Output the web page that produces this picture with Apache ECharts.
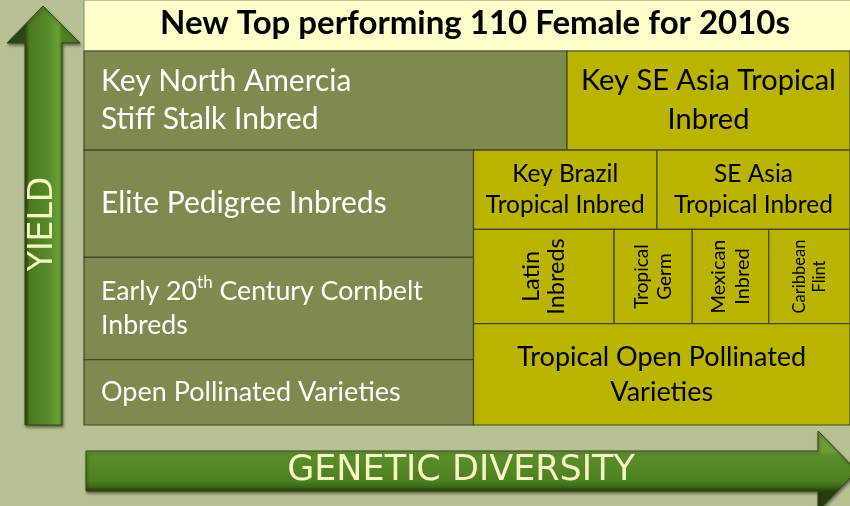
<!DOCTYPE html>
<html>
<head>
<meta charset="utf-8">
<script src="https://cdn.jsdelivr.net/npm/echarts@6/dist/echarts.min.js"></script>
<style>
html,body{margin:0;padding:0;background:#b8c194;}
#chart{width:850px;height:506px;}
</style>
</head>
<body>
<div id="chart"></div>
<script>
// ---- data ----
const titleText = 'New Top performing 110 Female for 2010s';
const yAxisName = 'YIELD';
const xAxisName = 'GENETIC DIVERSITY';

const cellLabels = [
  'Key North Amercia\nStiff Stalk Inbred',
  'Key SE Asia Tropical\nInbred',
  'Elite Pedigree Inbreds',
  'Early 20{sup|th} Century Cornbelt\nInbreds',
  'Open Pollinated Varieties',
  'Key Brazil\nTropical Inbred',
  'SE Asia\nTropical Inbred',
  'Latin\nInbreds',
  'Tropical\nGerm',
  'Mexican\nInbred',
  'Caribbean\nFlint',
  'Tropical Open Pollinated\nVarieties'
];
// cell extents in diagram units (0-100 diversity, 0-100 yield)
const diversityStart = [0,     63.05, 0,     0,     0,     50.85, 74.8,  50.85, 69.2,  79.4,  89.4,  50.85];
const diversityEnd   = [63.05, 100,   50.85, 50.85, 50.85, 74.8,  100,   69.2,  79.4,  89.4,  100,   100];
const yieldStart     = [73.5,  73.5,  44.8,  17.5,  0,     52.3,  52.3,  27.1,  27.1,  27.1,  27.1,  0];
const yieldEnd       = [100,   100,   73.5,  44.8,  17.5,  73.5,  73.5,  52.3,  52.3,  52.3,  52.3,  27.1];
const cellGroup      = ['temperate','tropical','temperate','temperate','temperate','tropical','tropical','tropical','tropical','tropical','tropical','tropical'];

// ---- styles ----
const groupFill = {temperate: '#7f8a4e', tropical: '#bab300'};
const groupText = {temperate: '#ffffff', tropical: '#000000'};
const cellTextStyle = [
  {align:'left', size:30, lh:38},
  {align:'center', size:29, lh:39},
  {align:'left', size:30, lh:36},
  {align:'left', size:26.7, lh:34},
  {align:'left', size:27, lh:32},
  {align:'center', size:24.5, lh:31},
  {align:'center', size:24.5, lh:31},
  {align:'center', size:23.5, lh:25, rotate:true},
  {align:'center', size:19, lh:23, rotate:true},
  {align:'center', size:20, lh:24, rotate:true},
  {align:'center', size:16.5, lh:20, rotate:true},
  {align:'center', size:27, lh:35}
];
const FONT = 'Lato, "Open Sans", sans-serif';

const data = cellLabels.map((l, i) => [diversityStart[i], diversityEnd[i], yieldStart[i], yieldEnd[i]]);

const chart = echarts.init(document.getElementById('chart'), null, {renderer: 'canvas'});

const arrowFillV = {type:'linear', global:true, x:25, y:0, x2:62, y2:0, colorStops:[
  {offset:0, color:'#2e4a14'}, {offset:0.12, color:'#4a7a1d'}, {offset:0.6, color:'#55892a'}, {offset:0.9, color:'#66a033'}, {offset:1, color:'#4f7f22'}]};
const arrowFillH = {type:'linear', global:true, x:0, y:451, x2:0, y2:491, colorStops:[
  {offset:0, color:'#6e9e3a'}, {offset:0.12, color:'#5a8f29'}, {offset:0.75, color:'#4e7f20'}, {offset:0.9, color:'#3c6518'}, {offset:1, color:'#263d10'}]};

const option = {
  backgroundColor: '#b8c194',
  animation: false,
  title: {
    text: titleText,
    left: 470,
    top: 2,
    textAlign: 'center',
    textStyle: {fontFamily: FONT, fontWeight: 'bold', fontSize: 33, color: '#000000'}
  },
  grid: {left: 84, right: 0, top: 51, bottom: 81},
  xAxis: {type: 'value', min: 0, max: 100, show: false},
  yAxis: {type: 'value', min: 0, max: 100, show: false},
  graphic: [
    {type:'rect', z:0, shape:{x:84, y:0, width:770, height:51}, style:{fill:'#ffffcc', stroke:'#8a8a66', lineWidth:1}},
    {type:'polygon', z:1, shape:{points:[[43,6],[80,43],[62,43],[62,425],[25,425],[25,43],[7,43]]},
      style:{fill:arrowFillV, stroke:'#2c4410', lineWidth:1, shadowBlur:3, shadowColor:'rgba(0,0,0,0.45)', shadowOffsetX:1, shadowOffsetY:2}},
    {type:'polygon', z:1, shape:{points:[[86,451],[818,451],[818,431],[857,471],[818,511],[818,491],[86,491]]},
      style:{fill:arrowFillH, stroke:'#2c4410', lineWidth:1, shadowBlur:3, shadowColor:'rgba(0,0,0,0.45)', shadowOffsetX:1, shadowOffsetY:2}},
    {type:'text', z:2, x:43, y:224, rotation:Math.PI/2,
      style:{text:yAxisName, fill:'#f6f4c2', fontFamily:'"DejaVu Sans", sans-serif', fontSize:33, fontWeight:'normal', align:'center', verticalAlign:'middle'}},
    {type:'text', z:2, x:461, y:471,
      style:{text:xAxisName, fill:'#f6f4c2', fontFamily:'"DejaVu Sans", sans-serif', fontSize:35, fontWeight:'normal', align:'center', verticalAlign:'middle'}}
  ],
  series: [{
    type: 'custom',
    coordinateSystem: 'cartesian2d',
    data: data,
    encode: {x: [0, 1], y: [2, 3]},
    renderItem: function (params, api) {
      const i = params.dataIndex;
      const tl = api.coord([api.value(0), api.value(3)]);
      const br = api.coord([api.value(1), api.value(2)]);
      const w = br[0] - tl[0], h = br[1] - tl[1];
      const st = cellTextStyle[i];
      const grp = cellGroup[i];
      const tx = st.align === 'left' ? tl[0] + 17 : tl[0] + w / 2;
      const ty = tl[1] + h / 2;
      return {
        type: 'group',
        children: [
          {type:'rect', shape:{x:tl[0], y:tl[1], width:w, height:h},
            style:{fill:groupFill[grp], stroke:'#45452c', lineWidth:1.2}},
          {type:'text', x:tx, y:ty, rotation: st.rotate ? Math.PI/2 : 0,
            style:{text:cellLabels[i], fill:groupText[grp], fontFamily:FONT, fontSize:st.size,
              lineHeight:st.lh, align:st.align, verticalAlign:'middle',
              rich:{sup:{fontFamily:FONT, fontSize:Math.round(st.size*0.62), lineHeight:st.lh, verticalAlign:'top', fill:groupText[grp], padding:[0,0,0,0]}}}}
        ]
      };
    }
  }]
};
chart.setOption(option);
</script>
</body>
</html>
